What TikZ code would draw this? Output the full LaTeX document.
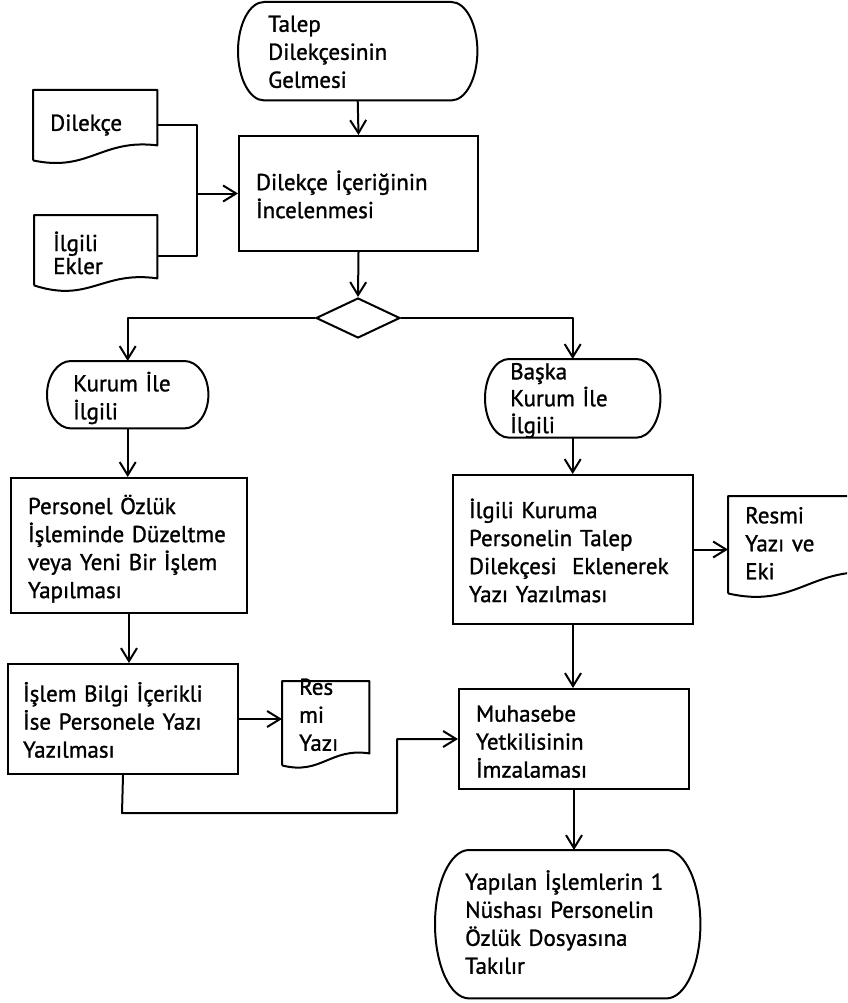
\documentclass[tikz,border=0pt]{standalone}
\usepackage{fontspec}
\setmainfont{PT Sans}[BoldFont=PT Sans, BoldFeatures={FakeBold=1.2}]
\usetikzlibrary{arrows.meta,shapes.geometric,calc}
\newcommand{\tl}[2][-5pt]{\raisebox{#1}[\height][\depth]{\begin{tabular}{@{}l@{}}#2\end{tabular}}}
\newcommand{\termshape}[2]{%
  \draw[line] let \p1=(#1.north), \p2=(#1.south), \n1={(\y1-\y2)/2} in
  ([xshift=#2]#1.north west) -- ([xshift=-#2]#1.north east)
  arc[start angle=90, end angle=-90, x radius=#2, y radius=\n1]
  -- ([xshift=#2]#1.south west)
  arc[start angle=270, end angle=90, x radius=#2, y radius=\n1] -- cycle;}
% #2 rise of right bottom, #3 lift of first control, #4 drop of second control
\newcommand{\docshape}[4]{%
  \draw[line] (#1.south west) -- (#1.north west) -- (#1.north east)
  -- ($(#1.south east)+(0,-#2)$)
  .. controls ($(#1.south east)!0.45!(#1.south west)+(0,{-#2-#3})$)
  and ($(#1.south west)!0.45!(#1.south east)+(0,#4)$) .. (#1.south west);}
\begin{document}
\begin{tikzpicture}[x=1pt,y=-1pt,
  every node/.style={font=\fontsize{23}{28}\selectfont\bfseries},
  base/.style={rectangle, draw=none, inner ysep=0pt, align=left, anchor=north west},
  line/.style={line width=2pt, line join=round},
  proc/.style={base, draw, line width=2pt},
  arr/.style={line, -{Straight Barb[length=13pt,width=16pt]}},
]
\fill[white] (0,0) rectangle (847,1003);
\useasboundingbox (0,0) rectangle (847,1003);
\clip (0,0) rectangle (847,1003);

% terminals
\node[base, minimum width=239pt, minimum height=98pt, inner xsep=30pt, text width=179pt] (start) at (238,2)
  {\tl[-3pt]{Talep\\Dilekçesinin\\Gelmesi}};
\termshape{start}{26pt}
\node[base, minimum width=161pt, minimum height=67pt, inner xsep=26pt, text width=109pt] (kurum) at (47,361)
  {\tl{Kurum İle\\İlgili}};
\termshape{kurum}{24pt}
\node[base, minimum width=175pt, minimum height=73pt, inner xsep=25pt, text width=125pt,
  font=\fontsize{23}{24.5}\selectfont\bfseries] (baska) at (485,359)
  {\tl[-3pt]{Başka\\Kurum İle\\İlgili}};
\termshape{baska}{24pt}
\node[base, minimum width=265pt, minimum height=148pt, inner xsep=30pt, text width=205pt] (final) at (435,850)
  {\tl[-2pt]{Yapılan İşlemlerin 1\\Nüshası Personelin\\Özlük Dosyasına\\Takılır}};
\termshape{final}{34pt}

% processes
\node[proc, minimum width=239pt, minimum height=115pt, inner xsep=17pt, text width=205pt] (insp) at (238,135)
  {\tl{Dilekçe İçeriğinin\\İncelenmesi}};
\node[proc, minimum width=236pt, minimum height=135pt, inner xsep=17pt, text width=202pt] (pers) at (10,477)
  {\tl{Personel Özlük\\İşleminde Düzeltme\\veya Yeni Bir İşlem\\Yapılması}};
\node[proc, minimum width=240pt, minimum height=149pt, inner xsep=16pt, text width=208pt] (kuruma) at (452,474)
  {\tl{İlgili Kuruma\\Personelin Talep\\Dilekçesi\ \ Eklenerek\\Yazı Yazılması}};
\node[proc, minimum width=230pt, minimum height=110pt, inner xsep=15pt, text width=200pt] (islem) at (7,663)
  {\tl{İşlem Bilgi İçerikli\\İse Personele Yazı\\Yazılması}};
\node[proc, minimum width=230pt, minimum height=100pt, inner xsep=17pt, text width=196pt] (muh) at (458,688)
  {\tl{Muhasebe\\Yetkilisinin\\İmzalaması}};

% decision
\node[diamond, draw, line width=2pt, minimum width=84pt, minimum height=40pt, inner sep=0pt] (dec) at (358,318) {};

% documents
\node[base, minimum width=124pt, minimum height=70pt, inner xsep=17pt, text width=90pt] (dil) at (33,90)
  {\tl[0pt]{Dilekçe}};
\docshape{dil}{15}{7}{12}
\node[base, minimum width=123pt, minimum height=70pt, inner xsep=19pt, text width=85pt,
  font=\fontsize{23}{23}\selectfont\bfseries] (ekler) at (34,215)
  {\tl[-6pt]{İlgili\\Ekler}};
\docshape{ekler}{7}{8}{18}
\node[base, minimum width=152pt, minimum height=97pt, inner xsep=17pt, text width=118pt] (eki) at (728,496)
  {\tl[-1pt]{Resmi\\Yazı ve\\Eki}};
\docshape{eki}{20}{9}{16}
\node[base, minimum width=87pt, minimum height=74pt, inner xsep=17pt, text width=53pt] (resmi) at (282,681)
  {\tl[6pt]{Res\\mi\\Yazı}};
\docshape{resmi}{12}{6}{10}

% connectors
\draw[arr] (start.south) -- (insp.north);
\draw[arr] (insp.south) -- (dec.north);
\draw[arr] (dec.west) -| (kurum.north);
\draw[arr] (dec.east) -| (baska.north);
\draw[arr] (kurum.south) -- (kurum.south |- pers.north);
\draw[arr] (baska.south) -- (baska.south |- kuruma.north);
\draw[arr] (pers.south) -- (pers.south |- islem.north);
\draw[arr] (kuruma.south) -- (kuruma.south |- muh.north);
\draw[arr] (muh.south) -- (muh.south |- final.north);
\draw[arr] (kuruma.east) -- (kuruma.east -| eki.west);
\draw[arr] (islem.east) -- (islem.east -| resmi.west);

\coordinate (jd) at (197,192);
\coordinate (ekA) at ([yshift=-6pt]ekler.east);
\draw[line] (dil.east) -- (dil.east -| jd) -- (ekA -| jd) -- (ekA);
\draw[arr] (jd |- insp.west) -- (insp.west);

\coordinate (bl) at (122,813);
\coordinate (br) at (397,813);
\draw[arr] (islem.south) -- (bl) -- (br) -- (br |- muh.west) -- (muh.west);
\end{tikzpicture}
\end{document}
